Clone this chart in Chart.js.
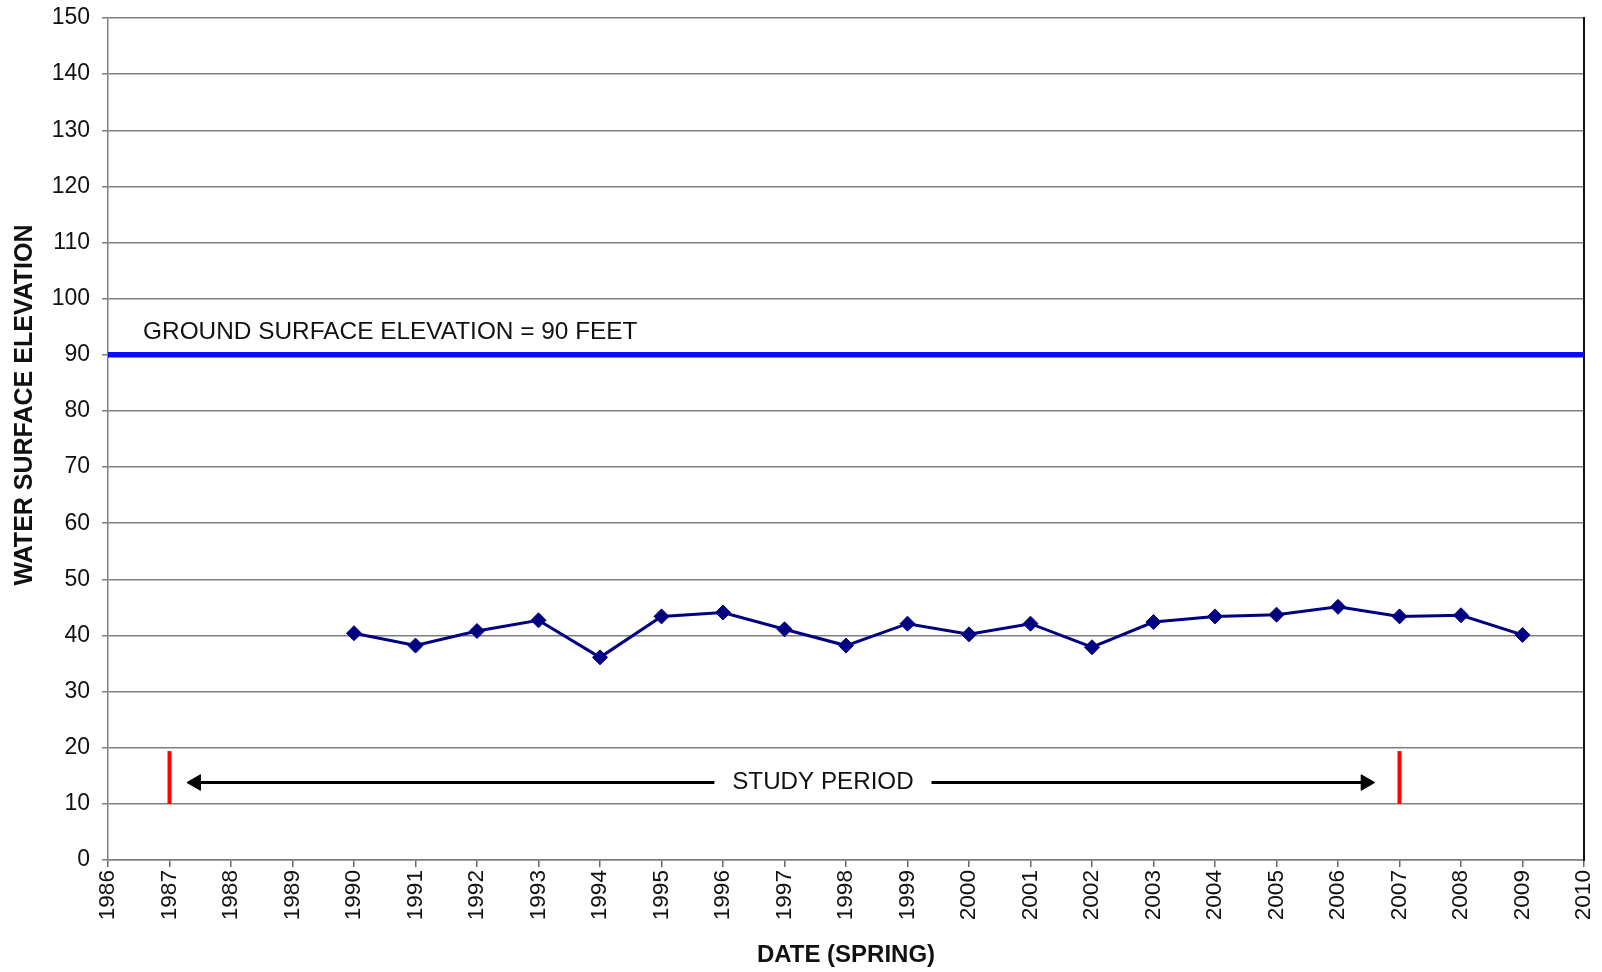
<!DOCTYPE html>
<html>
<head>
<meta charset="utf-8">
<script src="https://cdn.jsdelivr.net/npm/chart.js@4/dist/chart.umd.min.js"></script>
<style>
  html, body { margin: 0; padding: 0; background: #fff; }
  #wrap { width: 1602px; height: 972px; position: relative; }
</style>
</head>
<body>
<div id="wrap"><canvas id="c" width="1602" height="972"></canvas></div>
<script>
// ---- Data ----
const years = [1990, 1991, 1992, 1993, 1994, 1995, 1996, 1997, 1998, 1999,
               2000, 2001, 2002, 2003, 2004, 2005, 2006, 2007, 2008, 2009];
const elevations = [40.4, 38.2, 40.8, 42.7, 36.1, 43.4, 44.1, 41.1, 38.2, 42.1,
                    40.2, 42.1, 37.9, 42.4, 43.4, 43.7, 45.1, 43.4, 43.6, 40.1];
const groundElevation = 90;
const groundLabel = 'GROUND SURFACE ELEVATION = 90 FEET';
const studyStart = 1987;
const studyEnd = 2007;
const studyMarkerRange = [10, 19.4];
const studyArrowLevel = 13.8;
const studyArrowLeft = [1987.43, 1995.86];
const studyArrowRight = [1999.39, 2006.45];
const studyLabel = 'STUDY PERIOD';
const xRange = [1986, 2010];
const yRange = [0, 150];
const xTitle = 'DATE (SPRING)';
const yTitle = 'WATER SURFACE ELEVATION';

const FONT = '"Liberation Sans", Arial, Helvetica, sans-serif';

const seriesPoints = years.map((y, i) => ({ x: y, y: elevations[i] }));

const textPlugin = {
  id: 'textPlugin',
  afterDatasetsDraw(chart) {
    const { ctx, scales: { x, y } } = chart;
    ctx.save();
    ctx.fillStyle = '#111';
    ctx.font = '24.4px ' + FONT;
    ctx.textBaseline = 'middle';
    ctx.textAlign = 'left';
    ctx.fillText(groundLabel, x.getPixelForValue(1986.57), y.getPixelForValue(94.07));
    ctx.textAlign = 'center';
    ctx.font = '24.2px ' + FONT;
    ctx.fillText(studyLabel, x.getPixelForValue((studyArrowLeft[1] + studyArrowRight[0]) / 2), y.getPixelForValue(studyArrowLevel));
    // y axis title
    ctx.font = 'bold 25px ' + FONT;
    ctx.translate(25.5, 405);
    ctx.rotate(-Math.PI / 2);
    ctx.textAlign = 'center';
    ctx.fillText(yTitle, 0, 0);
    ctx.restore();
  }
};

new Chart(document.getElementById('c'), {
  type: 'line',
  data: {
    datasets: [
      {
        label: 'Ground',
        data: [{ x: xRange[0], y: groundElevation }, { x: xRange[1], y: groundElevation }],
        borderColor: '#0a0aff',
        borderWidth: 5.5,
        pointRadius: 0,
        order: 3
      },
      {
        label: 'Study start',
        data: [{ x: studyStart, y: studyMarkerRange[0] }, { x: studyStart, y: studyMarkerRange[1] }],
        borderColor: '#ff0000',
        borderWidth: 4,
        pointRadius: 0,
        order: 2
      },
      {
        label: 'Study end',
        data: [{ x: studyEnd, y: studyMarkerRange[0] }, { x: studyEnd, y: studyMarkerRange[1] }],
        borderColor: '#ff0000',
        borderWidth: 4,
        pointRadius: 0,
        order: 2
      },
      {
        label: 'Arrow left',
        data: [{ x: studyArrowLeft[0], y: studyArrowLevel }, { x: studyArrowLeft[1], y: studyArrowLevel }],
        borderColor: '#000',
        backgroundColor: '#000',
        borderWidth: 3,
        pointStyle: 'triangle',
        pointRotation: 270,
        pointRadius: [9, 0],
        pointBorderWidth: 1,
        order: 2
      },
      {
        label: 'Arrow right',
        data: [{ x: studyArrowRight[0], y: studyArrowLevel }, { x: studyArrowRight[1], y: studyArrowLevel }],
        borderColor: '#000',
        backgroundColor: '#000',
        borderWidth: 3,
        pointStyle: 'triangle',
        pointRotation: 90,
        pointRadius: [0, 9],
        pointBorderWidth: 1,
        order: 2
      },
      {
        label: 'Water surface elevation',
        data: seriesPoints,
        borderColor: '#000080',
        backgroundColor: '#000080',
        borderWidth: 3,
        pointStyle: 'rectRot',
        pointRadius: 7.5,
        pointBorderWidth: 1,
        tension: 0,
        order: 1
      }
    ]
  },
  options: {
    responsive: false,
    animation: false,
    events: [],
    layout: { padding: { left: 0, right: 18, top: 18, bottom: 0 } },
    plugins: {
      legend: { display: false },
      tooltip: { enabled: false },
      title: { display: false }
    },
    scales: {
      x: {
        type: 'linear',
        min: xRange[0],
        max: xRange[1],
        afterFit(scale) {
          scale.height = 112;
          scale.paddingLeft = 0;
          scale.paddingRight = 0;
        },
        ticks: {
          stepSize: 1,
          minRotation: 90,
          maxRotation: 90,
          padding: 3,
          color: '#111',
          font: { family: FONT, size: 22.6 },
          callback: (v) => String(v)
        },
        grid: {
          drawOnChartArea: false,
          drawTicks: true,
          tickLength: 7,
          color: '#666',
          lineWidth: 1.5
        },
        border: { display: true, color: '#7f7f7f', width: 1.5 },
        title: {
          display: true,
          text: xTitle,
          color: '#111',
          font: { family: FONT, size: 24, weight: 'bold' },
          padding: { top: 0, bottom: 2 }
        }
      },
      y: {
        min: yRange[0],
        max: yRange[1],
        afterFit(scale) {
          scale.width = 108;
          scale.paddingTop = 0;
          scale.paddingBottom = 0;
        },
        ticks: {
          stepSize: 10,
          padding: 12,
          color: '#111',
          font: { family: FONT, size: 23 }
        },
        grid: {
          color: '#7f7f7f',
          lineWidth: 1.5,
          tickLength: 6
        },
        border: { display: true, color: '#7f7f7f', width: 1.5 }
      },
      yRight: {
        position: 'right',
        min: yRange[0],
        max: yRange[1],
        afterFit(scale) {
          scale.width = 0;
          scale.paddingTop = 0;
          scale.paddingBottom = 0;
        },
        ticks: { display: false },
        grid: { drawOnChartArea: false, drawTicks: false },
        border: { display: true, color: '#111', width: 2 }
      }
    }
  },
  plugins: [textPlugin]
});
</script>
</body>
</html>
